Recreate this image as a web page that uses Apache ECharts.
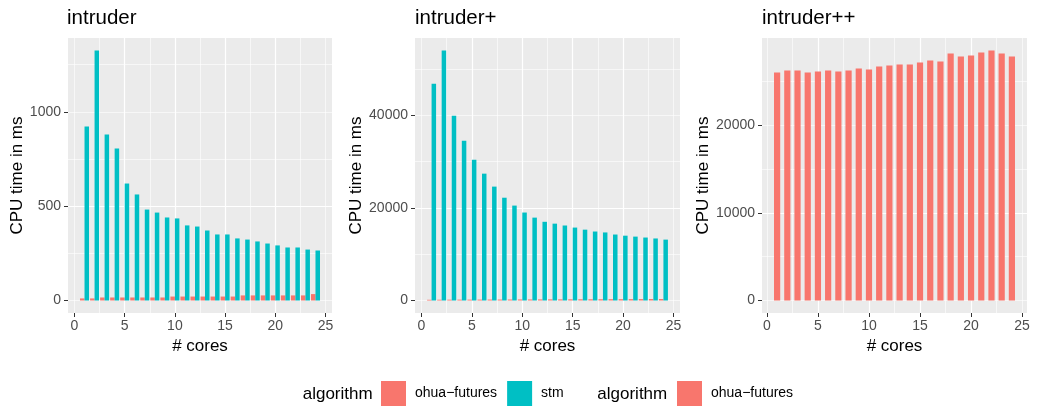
<!DOCTYPE html>
<html>
<head>
<meta charset="utf-8">
<title>intruder</title>
<script src="https://cdn.jsdelivr.net/npm/echarts@6/dist/echarts.min.js"></script>
<style>
    html, body { margin: 0; padding: 0; background: #ffffff; }
    #main { width: 1037px; height: 407px; }
</style>
</head>
<body>
<div id="main"></div>
<script>
// 数据
var cores = [1, 2, 3, 4, 5, 6, 7, 8, 9, 10, 11, 12, 13, 14, 15, 16, 17, 18, 19, 20, 21, 22, 23, 24];

var intruderOhua = [11, 11, 16, 16, 16, 16, 16, 16, 16, 21, 21, 21, 21, 21, 21, 21, 27, 27, 27, 27, 27, 27, 27, 34];
var intruderStm = [922, 1325, 880, 806, 620, 562, 482, 466, 440, 435, 398, 392, 371, 350, 350, 329, 323, 313, 302, 292, 281, 281, 270, 265];

var intruderPlusOhua = [160, 170, 180, 190, 190, 200, 210, 210, 220, 230, 230, 240, 250, 250, 260, 270, 270, 280, 290, 290, 300, 310, 320, 330];
var intruderPlusStm = [46800, 54000, 39900, 34500, 30400, 27400, 24600, 22200, 20500, 19000, 17900, 17000, 16600, 16200, 15750, 15300, 14900, 14700, 14250, 14000, 13800, 13600, 13400, 13150];

var intruderPPOhua = [26050, 26270, 26270, 26050, 26160, 26270, 26160, 26270, 26500, 26390, 26730, 26840, 26960, 26960, 27190, 27410, 27300, 28210, 27870, 27990, 28330, 28560, 28210, 27870];

var xTicks = [0, 5, 10, 15, 20, 25];
var yTicks1 = [0, 500, 1000];
var yTicks2 = [0, 20000, 40000];
var yTicks3 = [0, 10000, 20000];

var RED = '#F8766D';
var TEAL = '#00BFC4';
var FONT = 'Liberation Sans, Helvetica, Arial, sans-serif';

function pairs(xs, ys) {
    return xs.map(function (x, i) { return [x, ys[i]]; });
}

// 不要千分位
function plain(v) {
    return String(v);
}

// ggplot 风格的坐标轴: 主轴(标签+刻度+主网格) 和 次轴(次网格)
function xAxes(g, min, max) {
    return [{
        type: 'value', gridIndex: g, min: min, max: max,
        minInterval: 5, maxInterval: 5,
        axisLine: {show: false, onZero: false},
        axisTick: {show: true, length: 4, customValues: xTicks, lineStyle: {color: '#333333', width: 1}},
        axisLabel: {customValues: xTicks, formatter: plain, margin: 6, color: '#4D4D4D', fontSize: 14, fontFamily: FONT},
        splitLine: {show: true, showMinLine: false, showMaxLine: false, lineStyle: {color: '#ffffff', width: 1.2}},
        name: '# cores', nameLocation: 'middle', nameGap: 25,
        nameTextStyle: {color: '#000000', fontSize: 17, fontFamily: FONT}
    }, {
        type: 'value', gridIndex: g, min: min, max: max, position: 'bottom',
        minInterval: 2.5, maxInterval: 2.5,
        axisLine: {show: false, onZero: false},
        axisTick: {show: false},
        axisLabel: {show: false},
        splitLine: {show: true, showMinLine: false, showMaxLine: false, lineStyle: {color: '#ffffff', width: 0.6}}
    }];
}

function yAxes(g, dataMax, major, ticks, gap) {
    var min = -dataMax * 0.05, max = dataMax * 1.05;
    return [{
        type: 'value', gridIndex: g, min: min, max: max,
        minInterval: major, maxInterval: major,
        axisLine: {show: false, onZero: false},
        axisTick: {show: true, length: 4, customValues: ticks, lineStyle: {color: '#333333', width: 1}},
        axisLabel: {customValues: ticks, formatter: plain, margin: 7, color: '#4D4D4D', fontSize: 14, fontFamily: FONT},
        splitLine: {show: true, showMinLine: false, showMaxLine: false, lineStyle: {color: '#ffffff', width: 1.2}},
        name: 'CPU time in ms', nameLocation: 'middle', nameGap: gap,
        nameTextStyle: {color: '#000000', fontSize: 17, fontFamily: FONT}
    }, {
        type: 'value', gridIndex: g, min: min, max: max, position: 'left',
        minInterval: major / 2, maxInterval: major / 2,
        axisLine: {show: false, onZero: false},
        axisTick: {show: false},
        axisLabel: {show: false},
        splitLine: {show: true, showMinLine: false, showMaxLine: false, lineStyle: {color: '#ffffff', width: 0.6}}
    }];
}

function barSeries(name, g, data, color, width) {
    return {
        name: name, type: 'bar', xAxisIndex: g * 2, yAxisIndex: g * 2,
        data: pairs(cores, data), barWidth: width, barGap: '0%',
        itemStyle: {color: color}, silent: true, z: 3
    };
}

var chart = echarts.init(document.getElementById('main'));

var gridBase = {top: 38, height: 275, show: true, backgroundColor: '#EBEBEB', borderWidth: 0};

option = {
    animation: false,
    backgroundColor: '#ffffff',
    title: [
        {text: 'intruder', left: 67, top: 8, padding: 0, textStyle: {fontSize: 20.5, fontWeight: 'normal', color: '#000', fontFamily: FONT}},
        {text: 'intruder+', left: 415, top: 8, padding: 0, textStyle: {fontSize: 20.5, fontWeight: 'normal', color: '#000', fontFamily: FONT}},
        {text: 'intruder++', left: 762, top: 8, padding: 0, textStyle: {fontSize: 20.5, fontWeight: 'normal', color: '#000', fontFamily: FONT}}
    ],
    grid: [
        Object.assign({left: 68, width: 264}, gridBase),
        Object.assign({left: 415, width: 265}, gridBase),
        Object.assign({left: 762, width: 265}, gridBase)
    ],
    xAxis: [].concat(
        xAxes(0, -0.645, 25.645),
        xAxes(1, -0.645, 25.645),
        xAxes(2, -0.48, 25.48)
    ),
    yAxis: [].concat(
        yAxes(0, 1325, 500, yTicks1, 42),
        yAxes(1, 54000, 20000, yTicks2, 50),
        yAxes(2, 28560, 10000, yTicks3, 50)
    ),
    legend: [
        {data: ['ohua−futures', 'stm'], left: 381, top: 381, padding: 0, itemWidth: 25, itemHeight: 25, itemGap: 10,
            icon: 'rect', selectedMode: false,
            textStyle: {fontSize: 14, color: '#000', fontFamily: FONT, padding: [0, 0, 0, 4]}},
        {data: ['ohua−futures'], left: 677, top: 381, padding: 0, itemWidth: 25, itemHeight: 25, itemGap: 10,
            icon: 'rect', selectedMode: false,
            textStyle: {fontSize: 14, color: '#000', fontFamily: FONT, padding: [0, 0, 0, 4]}}
    ],
    graphic: [
        {type: 'text', x: 302.7, y: 394, style: {text: 'algorithm', fontSize: 17, fontFamily: FONT, fill: '#000', verticalAlign: 'middle'}},
        {type: 'text', x: 597.3, y: 394, style: {text: 'algorithm', fontSize: 17, fontFamily: FONT, fill: '#000', verticalAlign: 'middle'}}
    ],
    series: [
        barSeries('ohua−futures', 0, intruderOhua, RED, 4.5),
        barSeries('stm', 0, intruderStm, TEAL, 4.5),
        barSeries('ohua−futures', 1, intruderPlusOhua, RED, 4.5),
        barSeries('stm', 1, intruderPlusStm, TEAL, 4.5),
        barSeries('ohua−futures', 2, intruderPPOhua, RED, 6.2)
    ]
};

chart.setOption(option);
</script>
</body>
</html>
